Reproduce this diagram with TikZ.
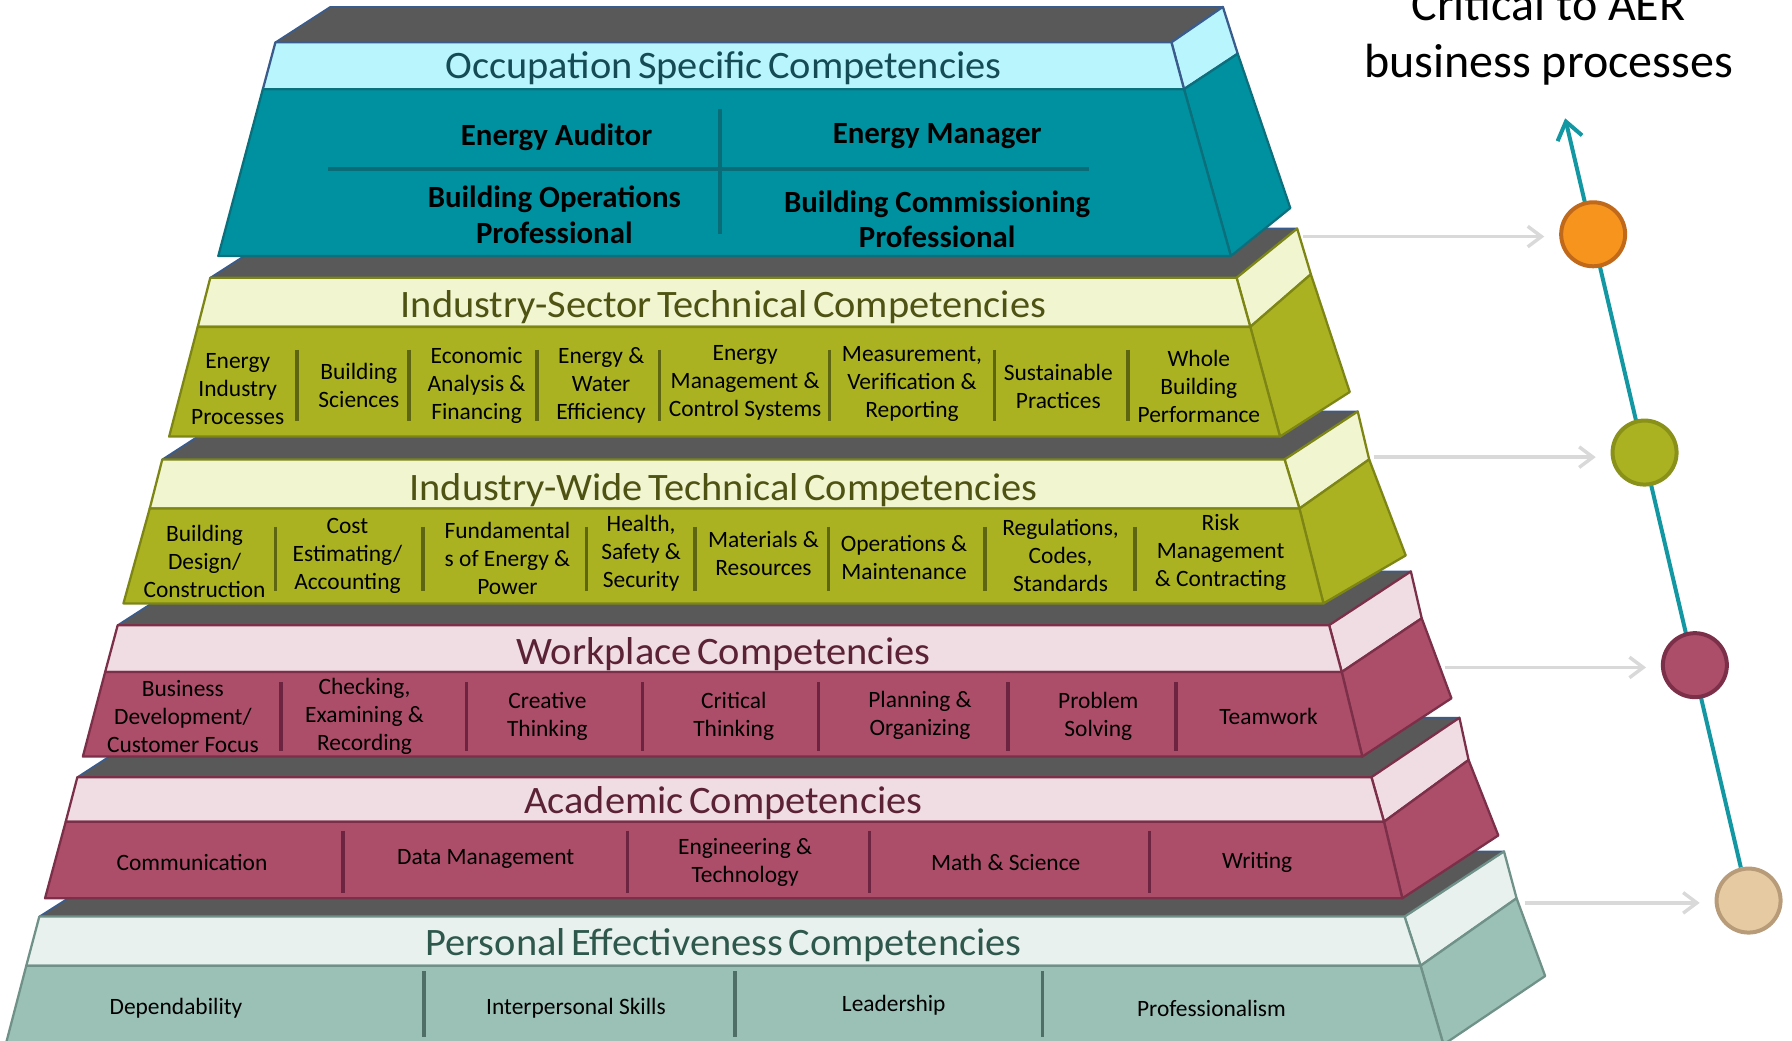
\documentclass[tikz,border=0pt]{standalone}
\usepackage{fontspec}
\setmainfont{Carlito}
\newfontfamily\headfont{Carlito}[WordSpace=0.6,FakeStretch=1.04]
\usetikzlibrary{arrows.meta,backgrounds}

\definecolor{slabgray}{HTML}{595959}
\definecolor{slabblue}{HTML}{3A5C8C}
\definecolor{tealbody}{HTML}{0091A0}
\definecolor{tealhead}{HTML}{B8F5FD}
\definecolor{tealedge}{HTML}{0B6F7C}
\definecolor{tealdiv}{HTML}{0A6C77}
\definecolor{tealtext}{HTML}{154B55}
\definecolor{olivebody}{HTML}{AAB222}
\definecolor{olivehead}{HTML}{F1F5D0}
\definecolor{oliveedge}{HTML}{7D8614}
\definecolor{olivediv}{HTML}{5E6510}
\definecolor{olivetext}{HTML}{4E5314}
\definecolor{rosebody}{HTML}{AC4D69}
\definecolor{rosehead}{HTML}{F0DCE3}
\definecolor{roseedge}{HTML}{7B2F48}
\definecolor{rosediv}{HTML}{6C2440}
\definecolor{rosetext}{HTML}{5B2236}
\definecolor{sagebody}{HTML}{9BC1B7}
\definecolor{sagehead}{HTML}{E9F1EE}
\definecolor{sageedge}{HTML}{6F9188}
\definecolor{sagediv}{HTML}{4E6E66}
\definecolor{sagetext}{HTML}{2F584D}
\definecolor{feedgray}{HTML}{D9D9D9}
\definecolor{riseteal}{HTML}{1397A3}
\definecolor{dotorange}{HTML}{F7941E}
\definecolor{dotorangeedge}{HTML}{C0691A}
\definecolor{dotolive}{HTML}{AAB222}
\definecolor{dotoliveedge}{HTML}{8A9119}
\definecolor{dotrose}{HTML}{AC4D69}
\definecolor{dotroseedge}{HTML}{7C2F48}
\definecolor{dottan}{HTML}{E6CAA2}
\definecolor{dottanedge}{HTML}{B89C7A}

\tikzset{
  slabtop/.style={fill=slabgray, draw=slabblue, line width=1.5pt},
  tierface/.style 2 args={fill=#1, draw=#2, line width=2pt},
  divider/.style={draw=#1, line width=3pt},
  headline/.style={text=#1, inner sep=0pt, yshift=-2pt, font=\headfont\fontsize{34}{38}\selectfont},
  cell/.style={inner sep=0pt, align=center, yshift=-2pt, font=\fontsize{20.5}{24.5}\selectfont},
  role/.style={inner sep=0pt, align=center, yshift=-2pt, font=\bfseries\fontsize{27}{31}\selectfont},
  marker/.style 2 args={circle, fill=#1, draw=#2, line width=3.5pt, minimum size=56pt, inner sep=0pt},
  feed/.style={draw=feedgray, line width=3pt, -{Straight Barb[length=12pt,width=18pt]}, shorten >=13pt},
  rise/.style={draw=riseteal, line width=3.5pt, -{Straight Barb[length=15pt,width=22pt]}},
  title/.style={inner sep=0pt, font=\fontsize{42}{50}\selectfont},
}

\begin{document}
\begin{tikzpicture}[x=1pt, y=-1pt, line join=round]
\useasboundingbox (0,0) rectangle (1568,910);

% personal effectiveness
\filldraw[slabtop] (34.4,802)--(124,745)--(1316,745)--(1229,802)--cycle;
\filldraw[tierface={sagehead}{sageedge}] (1229,802)--(1316,745)--(1327,786)--(1243,845)--cycle;
\filldraw[tierface={sagebody}{sageedge}] (1243,845)--(1327,786)--(1352,854)--(1263,914)--cycle;
\filldraw[tierface={sagehead}{sageedge}] (34.4,802)--(1229,802)--(1243,845)--(23,845)--cycle;
\filldraw[tierface={sagebody}{sageedge}] (23,845)--(1243,845)--(1263,914)--(5,914)--cycle;
\foreach \x in {371,643,912} \draw[divider=sagediv] (\x,850)--(\x,907);
\node[headline=sagetext] (personal) at (633,825) {Personal Effectiveness Competencies};
\foreach \x/\y/\t [count=\i] in {154/880/{Dependability}, 504/880/{Interpersonal Skills},
    782/878/{Leadership}, 1060/880/{Professionalism}}
  \node[cell] (pers\i) at (\x,\y) {\t};

% academic
\filldraw[slabtop] (67.7,680)--(148,628)--(1277,628)--(1200,680)--cycle;
\filldraw[tierface={rosehead}{roseedge}] (1200,680)--(1277,628)--(1285,665)--(1211,719)--cycle;
\filldraw[tierface={rosebody}{roseedge}] (1211,719)--(1285,665)--(1311,731)--(1227,786)--cycle;
\filldraw[tierface={rosehead}{roseedge}] (67.7,680)--(1200,680)--(1211,719)--(57.5,719)--cycle;
\filldraw[tierface={rosebody}{roseedge}] (57.5,719)--(1211,719)--(1227,786)--(39.4,786)--cycle;
\foreach \x in {300,549,761,1006} \draw[divider=rosediv] (\x,727)--(\x,781);
\node[headline=rosetext] (academic) at (633,701) {Academic Competencies};
\foreach \x/\y/\t [count=\i] in {168/753/{Communication}, 425/750/{Data Management},
    652/753/{Engineering \&\\Technology}, 880/753/{Math \& Science}, 1100/753/{Writing}}
  \node[cell] (acad\i) at (\x,\y) {\t};

% workplace
\filldraw[slabtop] (103,547)--(176,500)--(1234.5,500)--(1163,547)--cycle;
\filldraw[tierface={rosehead}{roseedge}] (1163,547)--(1234.5,500)--(1244,541)--(1174,588)--cycle;
\filldraw[tierface={rosebody}{roseedge}] (1174,588)--(1244,541)--(1270,611)--(1192,662)--cycle;
\filldraw[tierface={rosehead}{roseedge}] (103,547)--(1163,547)--(1174,588)--(92,588)--cycle;
\filldraw[tierface={rosebody}{roseedge}] (92,588)--(1174,588)--(1192,662)--(72.5,662)--cycle;
\foreach \x in {246,408,562,716,882,1029} \draw[divider=rosediv] (\x,597)--(\x,657);
\node[headline=rosetext] (workplace) at (633,570) {Workplace Competencies};
\foreach \x/\y/\t [count=\i] in {160/625/{Business\\Development/\\Customer Focus},
    319/625/{Checking,\\Examining \&\\Recording}, 479/625/{Creative\\Thinking},
    642/625/{Critical\\Thinking}, 805/624/{Planning \&\\Organizing},
    961/625/{Problem\\Solving}, 1110/625/{Teamwork}}
  \node[cell] (work\i) at (\x,\y) {\t};

% industry-wide
\filldraw[slabtop] (142,402)--(207,360)--(1188,360)--(1124,402)--cycle;
\filldraw[tierface={olivehead}{oliveedge}] (1124,402)--(1188,360)--(1198,402)--(1137,445)--cycle;
\filldraw[tierface={olivebody}{oliveedge}] (1137,445)--(1198,402)--(1230,486)--(1158,528)--cycle;
\filldraw[tierface={olivehead}{oliveedge}] (142,402)--(1124,402)--(1137,445)--(131,445)--cycle;
\filldraw[tierface={olivebody}{oliveedge}] (131,445)--(1137,445)--(1158,528)--(108,528)--cycle;
\foreach \x in {241,370,513,608,725,862,993} \draw[divider=olivediv] (\x,461)--(\x,517);
\node[headline=olivetext] (wide) at (633,427) {Industry-Wide Technical Competencies};
\foreach \x/\y/\t [count=\i] in {179/489/{Building\\Design/\\Construction},
    304/484/{Cost\\Estimating/\\Accounting}, 444/487/{Fundamental\\s of Energy \&\\Power},
    561/482/{Health,\\Safety \&\\Security}, 668/482/{Materials \&\\Resources},
    791/486/{Operations \&\\Maintenance}, 928/484/{Regulations,\\Codes,\\Standards},
    1068/481/{Risk\\Management\\\& Contracting}}
  \node[cell] (wide\i) at (\x,\y) {\t};

% industry-sector
\filldraw[slabtop] (184,243)--(251,200)--(1135,200)--(1082,243)--cycle;
\filldraw[tierface={olivehead}{oliveedge}] (1082,243)--(1135,200)--(1147,240)--(1094,286)--cycle;
\filldraw[tierface={olivebody}{oliveedge}] (1094,286)--(1147,240)--(1181,343)--(1120,382)--cycle;
\filldraw[tierface={olivehead}{oliveedge}] (184,243)--(1082,243)--(1094,286)--(173,286)--cycle;
\filldraw[tierface={olivebody}{oliveedge}] (173,286)--(1094,286)--(1120,382)--(148,382)--cycle;
\foreach \x in {260,358,470,577,726,870,987} \draw[divider=olivediv] (\x,306)--(\x,368);
\node[headline=olivetext] (sector) at (633,267) {Industry-Sector Technical Competencies};
\foreach \x/\y/\t [count=\i] in {208/338/{Energy\\Industry\\Processes},
    314/335/{Building\\Sciences}, 417/335/{Economic\\Analysis \&\\Financing},
    526/335/{Energy \&\\Water\\Efficiency}, 652/333/{Energy\\Management \&\\Control Systems},
    798/334/{Measurement,\\Verification \&\\Reporting}, 926/336/{Sustainable\\Practices},
    1049/336/{Whole\\Building\\Performance}}
  \node[cell] (sect\i) at (\x,\y) {\t};

% occupation specific
\filldraw[slabtop] (241,37)--(289,6)--(1070,6)--(1025,37)--cycle;
\filldraw[tierface={tealhead}{slabblue}] (1025,37)--(1070,6)--(1083,47)--(1036,78)--cycle;
\filldraw[tierface={tealbody}{tealedge}] (1036,78)--(1083,47)--(1129,182)--(1077,224)--cycle;
\filldraw[tierface={tealhead}{slabblue}] (241,37)--(1025,37)--(1036,78)--(230,78)--cycle;
\filldraw[tierface={tealbody}{tealedge}] (230,78)--(1036,78)--(1077,224)--(191,224)--cycle;
\draw[divider=tealdiv] (630,95)--(630,205);
\draw[divider=tealdiv] (287,148)--(953,148);
\node[headline=tealtext] (occupation) at (633,58) {Occupation Specific Competencies};
\node[role] (auditor) at (487,118) {Energy Auditor};
\node[role] (manager) at (820,117) {Energy Manager};
\node[role] (operations) at (485,186) {Building Operations\\Professional};
\node[role] (commissioning) at (820,190) {Building Commissioning\\Professional};

% critical path
\node[title, anchor=base] (aer) at (1355,18) {Critical to AER};
\node[title, anchor=base] (business) at (1355,68) {business processes};
\node[marker={dotorange}{dotorangeedge}] (c1) at (1394,205) {};
\node[marker={dotolive}{dotoliveedge}] (c2) at (1439,396) {};
\node[marker={dotrose}{dotroseedge}] (c3) at (1483,582) {};
\node[marker={dottan}{dottanedge}] (c4) at (1530,788) {};
\coordinate (tip) at (1369.5,103.5);
\begin{scope}[on background layer]
  \draw[rise] (c4) -- (tip);
\end{scope}
\coordinate (f1) at (1140,207);
\coordinate (f2) at (1202,400);
\coordinate (f3) at (1264,584);
\coordinate (f4) at (1334,790);
\foreach \i in {1,2,3,4} \draw[feed] (f\i) -- (f\i -| c\i.west);
\end{tikzpicture}
\end{document}
